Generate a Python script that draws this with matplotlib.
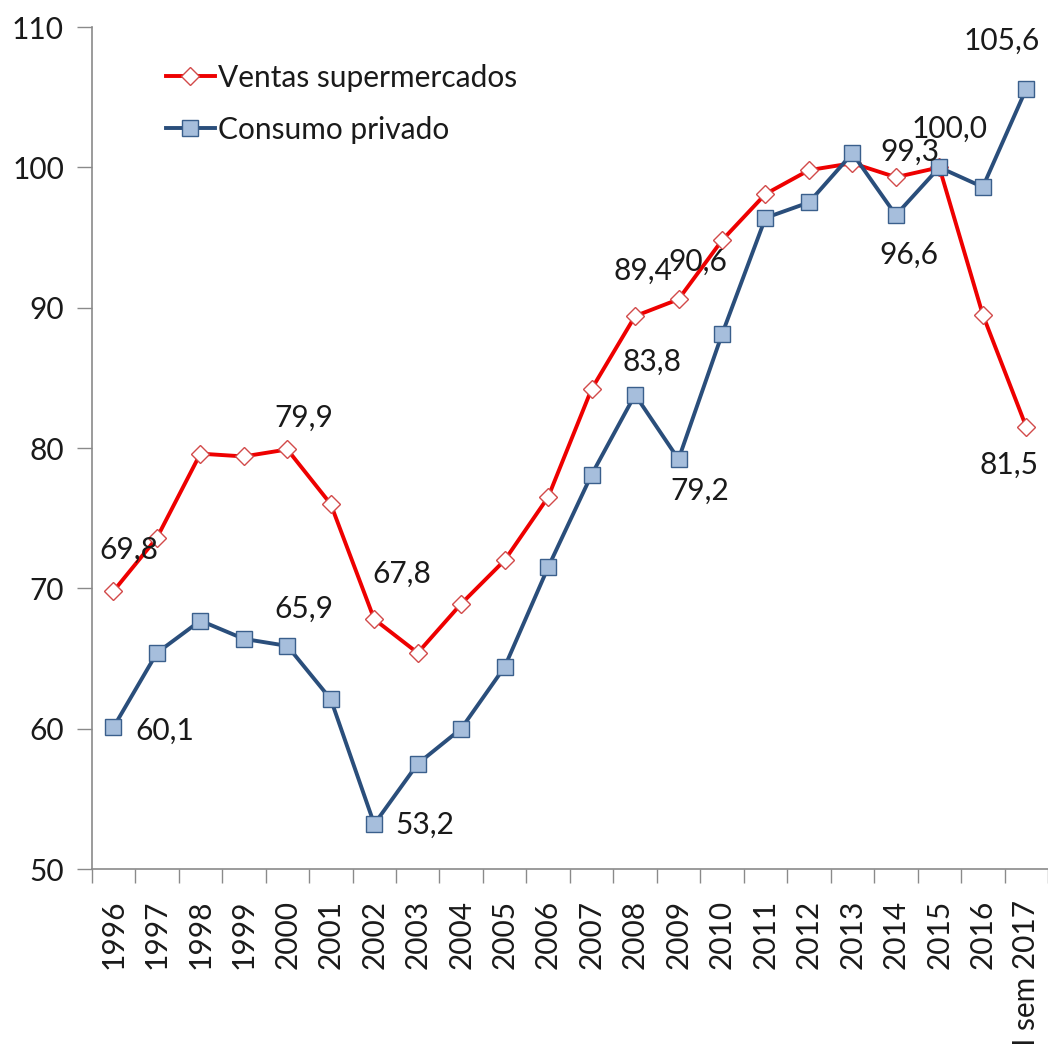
import numpy as np
import matplotlib
matplotlib.use("Agg")
import matplotlib.pyplot as plt

plt.rcParams["font.family"] = ["Lato", "DejaVu Sans"]

# --- data ---
years = ["1996", "1997", "1998", "1999", "2000", "2001", "2002", "2003",
         "2004", "2005", "2006", "2007", "2008", "2009", "2010", "2011",
         "2012", "2013", "2014", "2015", "2016", "I sem 2017"]

ventas = [69.8, 73.6, 79.6, 79.4, 79.9, 76.0, 67.8, 65.4, 68.9, 72.0, 76.5,
          84.2, 89.4, 90.6, 94.8, 98.1, 99.8, 100.3, 99.3, 100.0, 89.5, 81.5]

consumo = [60.1, 65.4, 67.7, 66.4, 65.9, 62.1, 53.2, 57.5, 60.0, 64.4, 71.5,
           78.1, 83.8, 79.2, 88.1, 96.4, 97.5, 101.0, 96.6, 100.0, 98.6, 105.6]

# labelled points: (index, dx, dy) offsets in pixels
ventas_labels = [(0, 15, 41), (4, 17, 32), (6, 28, 45), (12, 8, 45),
                 (13, 19, 38), (18, 14, 25), (21, -17, -38)]
consumo_labels = [(0, 51, -3), (4, 17, 37), (6, 51, -1), (12, 17, 33),
                  (13, 21, -32), (18, 13, -40), (19, 10, 39), (21, -25, 48)]

RED = "#EE0000"
BLUE = "#2A4E7B"
TEXT = "#1a1a1a"
AXIS = "#8a8a8a"
FS = 21.5

fig = plt.figure(figsize=(10.48, 10.44), dpi=100)
ax = fig.add_axes([0.0875, 0.1676, 0.9125, 0.8065])

x = np.arange(len(years))

ax.plot(x, ventas, color=RED, lw=2.8, marker="D", ms=8.8,
        mfc="white", mec="#D24A4A", mew=1.0, label="Ventas supermercados", zorder=3)
ax.plot(x, consumo, color=BLUE, lw=2.8, marker="s", ms=12,
        mfc="#A6BEDC", mec="#3A5F8C", mew=1.0, label="Consumo privado", zorder=4)


def fmt(v):
    return f"{v:.1f}".replace(".", ",")


for i, dx, dy in ventas_labels:
    ax.annotate(fmt(ventas[i]), (x[i], ventas[i]), xytext=(dx, dy),
                textcoords="offset pixels", ha="center", va="center",
                fontsize=FS, color=TEXT, zorder=5)
for i, dx, dy in consumo_labels:
    ax.annotate(fmt(consumo[i]), (x[i], consumo[i]), xytext=(dx, dy),
                textcoords="offset pixels", ha="center", va="center",
                fontsize=FS, color=TEXT, zorder=5)

# axes
ax.set_xlim(-0.5, len(years) - 0.5)
ax.set_ylim(50, 110)
ax.set_yticks(np.arange(50, 111, 10))
ax.set_xticks(x)
ax.set_xticklabels(years, rotation=90)
ax.set_xticks(np.arange(-0.5, len(years), 1), minor=True)

ax.tick_params(axis="x", which="major", length=0, pad=22, labelsize=FS,
               labelcolor=TEXT)
ax.tick_params(axis="x", which="minor", length=10, width=1, color=AXIS,
               direction="out")
ax.tick_params(axis="y", length=11, width=1, color=AXIS, direction="out",
               pad=9, labelsize=FS, labelcolor=TEXT)

for side in ["top", "right"]:
    ax.spines[side].set_visible(False)
for side in ["left", "bottom"]:
    ax.spines[side].set_color(AXIS)
    ax.spines[side].set_linewidth(1.2)

ax.legend(loc="upper left", bbox_to_anchor=(0.158, 0.939),
          bbox_transform=fig.transFigure, frameon=False, fontsize=FS,
          handlelength=1.65, handletextpad=0.1, borderpad=0,
          borderaxespad=0, labelspacing=0.8, labelcolor=TEXT)

fig.savefig("out.png", dpi=100)
